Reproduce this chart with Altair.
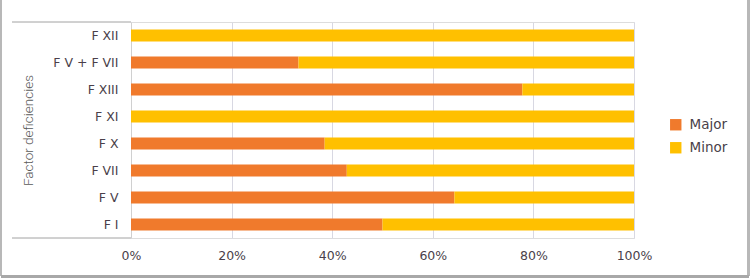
import altair as alt
import pandas as pd

# Share of major vs. minor bleeding by factor deficiency (percent)
factors = ["F XII", "F V + F VII", "F XIII", "F XI", "F X", "F VII", "F V", "F I"]
major = [0.0, 33.3, 77.8, 0.0, 38.5, 42.9, 64.3, 50.0]
minor = [100.0 - m for m in major]
severity = ["Major", "Minor"]
colors = ["#F07A2C", "#FFC000"]
x_ticks = [0, 20, 40, 60, 80, 100]

rows = []
for f, ma, mi in zip(factors, major, minor):
    rows.append({"factor": f, "severity": "Major", "pct": ma, "rank": 0})
    rows.append({"factor": f, "severity": "Minor", "pct": mi, "rank": 1})
df = pd.DataFrame(rows)

W, H = 503, 216
label_color = "#4A3F4A"
frame_color = "#D0D0D0"
label_font = "DejaVu Sans"

bars = alt.Chart(df).mark_bar(size=12).encode(
    x=alt.X(
        "pct:Q",
        stack="zero",
        scale=alt.Scale(domain=[0, 100], nice=False),
        axis=alt.Axis(
            values=x_ticks,
            labelExpr="datum.value + '%'",
            title=None,
            domain=False,
            ticks=False,
            grid=True,
            gridColor="#D8D8E2",
            gridWidth=1,
            labelFlush=False,
            labelPadding=11,
            labelFontSize=12.5,
            labelFont=label_font,
            labelColor=label_color,
        ),
    ),
    y=alt.Y(
        "factor:N",
        sort=factors,
        scale=alt.Scale(paddingInner=0, paddingOuter=0),
        axis=alt.Axis(
            title="Factor deficiencies",
            titleFont="Roboto",
            titleFontSize=13.5,
            titleFontWeight=300,
            titleColor="#595959",
            titleX=-103,
            titleY=H / 2,
            titleAlign="center",
            titleBaseline="middle",
            domain=True,
            domainColor=frame_color,
            ticks=False,
            labelPadding=13,
            labelFontSize=12.5,
            labelFont=label_font,
            labelColor=label_color,
        ),
    ),
    color=alt.Color(
        "severity:N",
        scale=alt.Scale(domain=severity, range=colors),
        legend=alt.Legend(
            title=None,
            orient="none",
            legendX=538,
            legendY=96,
            symbolType="square",
            symbolSize=130,
            symbolStrokeWidth=0,
            labelFontSize=13.5,
            labelFont=label_font,
            labelColor=label_color,
            rowPadding=8,
            labelOffset=7,
        ),
    ),
    order=alt.Order("rank:Q"),
)

# Box around the category labels
box_top = alt.Chart(df).mark_rule(color=frame_color, strokeWidth=1).encode(
    x=alt.value(-119), x2=alt.value(0), y=alt.value(0)
)
box_bottom = alt.Chart(df).mark_rule(color=frame_color, strokeWidth=1).encode(
    x=alt.value(-119), x2=alt.value(0), y=alt.value(H)
)

# Outer frame of the figure
frame_left = alt.Chart(df).mark_rule(color="#B8B8B8", strokeWidth=1.5).encode(
    x=alt.value(-130), y=alt.value(-22), y2=alt.value(254)
)
frame_right = alt.Chart(df).mark_rule(color="#B8B8B8", strokeWidth=1.5).encode(
    x=alt.value(617.5), y=alt.value(-22), y2=alt.value(254)
)
frame_bottom = alt.Chart(df).mark_rule(color="#A8A8A8", strokeWidth=2).encode(
    x=alt.value(-130), x2=alt.value(617.5), y=alt.value(254.5)
)

chart = (
    alt.layer(bars, box_top, box_bottom, frame_left, frame_right, frame_bottom)
    .properties(
        width=W,
        height=H,
        autosize=alt.AutoSizeParams(type="none"),
        padding={"left": 131, "top": 22, "right": 116, "bottom": 40},
    )
    .configure_view(stroke=None)
    .configure(background="white")
)

chart.save("out.html", embed_options={"renderer": "svg", "actions": False})
